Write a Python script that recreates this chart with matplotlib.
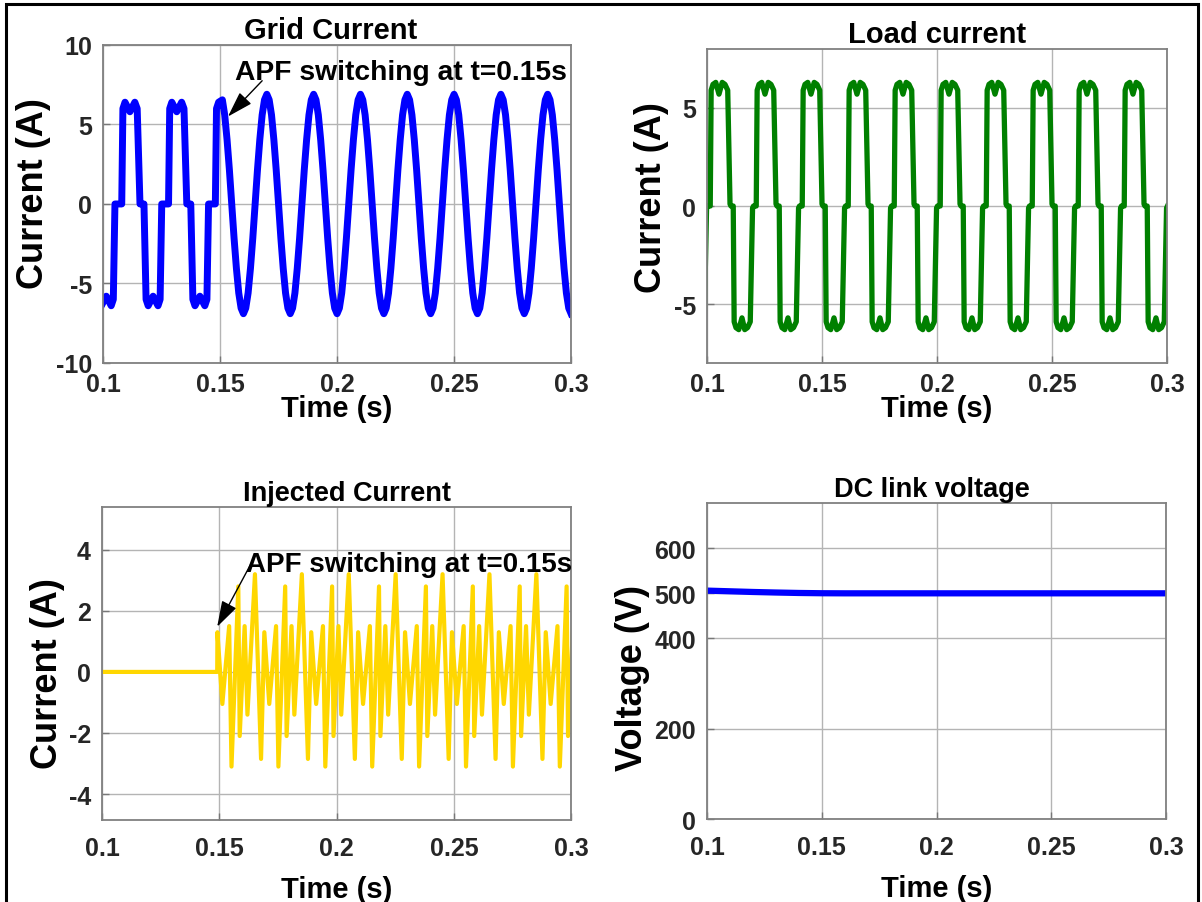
import numpy as np
import matplotlib
matplotlib.use('Agg')
import matplotlib.pyplot as plt
from matplotlib.patches import Rectangle

plt.rcParams['font.family'] = ['Liberation Sans', 'DejaVu Sans']
plt.rcParams['font.weight'] = 'bold'
plt.rcParams['axes.unicode_minus'] = False

# time axis ticks shared by all panels
x_ticks = [0.1, 0.15, 0.2, 0.25, 0.3]
x_tick_labels = ['0.1', '0.15', '0.2', '0.25', '0.3']

# grid current before APF switching: one period (time from rising edge)
grid_cycle_t = [0.0000, 0.0005, 0.0014, 0.0035, 0.0056, 0.0066, 0.0078, 0.0095,
                0.0104, 0.0113, 0.0134, 0.0155, 0.0164, 0.0171]
grid_cycle_i = [0.0, 6.0, 6.4, 5.8, 6.4, 6.0, 0.0, 0.0,
                -6.0, -6.4, -5.8, -6.4, -6.0, 0.0]
grid_cycle_starts = [0.088, 0.108, 0.128, 0.148]
# grid current after switching: one sinusoid period at 1 ms steps, starting at a peak
grid_sine_cycle = [6.9, 6.55, 5.6, 4.05, 2.15, 0.0, -2.15, -4.05, -5.6, -6.55,
                   -6.9, -6.55, -5.6, -4.05, -2.15, 0.0, 2.15, 4.05, 5.6, 6.55]

# load current: one period (time from rising edge)
load_cycle_t = [0.0000, 0.0004, 0.0012, 0.0024, 0.0038, 0.0052, 0.0064, 0.0076,
                0.0086, 0.0090, 0.0100, 0.0104, 0.0112, 0.0124, 0.0138, 0.0150,
                0.0162, 0.0174, 0.0184, 0.0188]
load_cycle_i = [0.0, 5.9, 6.2, 6.3, 5.7, 6.3, 6.2, 5.9,
                0.1, 0.0, 0.0, -5.9, -6.2, -6.3, -5.7, -6.3,
                -6.2, -5.9, -0.1, 0.0]
load_cycle_starts = [0.0814 + 0.02 * k for k in range(11)]

# injected current: one period of the spiky waveform after switching
inj_start = 0.1492
inj_cycle_t = [0.0, 0.0021, 0.0050, 0.0060, 0.0089, 0.0095, 0.0116, 0.0128, 0.0160, 0.0186]
inj_cycle_i = [1.3, -1.05, 1.5, -3.1, 2.8, -2.1, 1.5, -1.4, 3.2, -2.85]

# DC link voltage
dc_t = [0.10, 0.11, 0.12, 0.13, 0.14, 0.15, 0.16, 0.20, 0.25, 0.30]
dc_v = [506, 504.5, 503, 501.8, 500.8, 500.2, 500, 500, 500, 500]

# build series
gt, gi = [], []
for s in grid_cycle_starts:
    for tt, ii in zip(grid_cycle_t, grid_cycle_i):
        if s + tt <= 0.1505:
            gt.append(s + tt)
            gi.append(ii)
for k in range(1, 151):
    gt.append(0.15 + k * 0.001)
    gi.append(grid_sine_cycle[k % 20])

lt, li = [], []
for s in load_cycle_starts:
    for tt, ii in zip(load_cycle_t, load_cycle_i):
        lt.append(s + tt)
        li.append(ii)

it, ii_ = [0.1, inj_start - 0.0001], [0.0, 0.0]
for k in range(8):
    for tt, vv in zip(inj_cycle_t, inj_cycle_i):
        it.append(inj_start + 0.02 * k + tt)
        ii_.append(vv)

fig = plt.figure(figsize=(12.02, 9.03), dpi=100)

ax1 = fig.add_axes([0.0857, 0.5969, 0.3894, 0.3522])
ax2 = fig.add_axes([0.5882, 0.5969, 0.3827, 0.3477])
ax3 = fig.add_axes([0.0849, 0.0908, 0.3902, 0.3466])
ax4 = fig.add_axes([0.5882, 0.0919, 0.3819, 0.3499])


def style(ax, ylim, yticks, ylabel, label_y, top_row):
    ax.set_xlim(0.1, 0.3)
    ax.set_xticks(x_ticks)
    ax.set_xticklabels(x_tick_labels)
    ax.set_ylim(ylim)
    ax.set_yticks(yticks)
    ax.set_yticklabels([str(v) for v in yticks])
    ax.grid(True, color='#b4b4b4', lw=1)
    ax.set_axisbelow(True)
    ax.tick_params(direction='in', length=5, width=1, color='#777777',
                   labelsize=18, pad=8, labelcolor='#262626')
    ax.tick_params(axis='x', pad=6.6 if top_row else 11.6)
    for sp in ax.spines.values():
        sp.set_color('#808080')
        sp.set_linewidth(1.3)
    ax.set_xlabel('Time (s)', fontsize=21, fontweight='bold',
                  labelpad=-1.3 if top_row else 11)
    ax.set_ylabel(ylabel, fontsize=26, fontweight='bold', labelpad=3)
    ax.yaxis.label.set_y(label_y)


ax1.plot(gt, gi, color='#0000ff', lw=5)
style(ax1, (-10, 10), [-10, -5, 0, 5, 10], 'Current (A)', 0.535, True)
ax1.set_title('Grid Current', fontsize=21, fontweight='bold', pad=5, x=0.487)
ax1.text(0.1564, 8.3, 'APF switching at t=0.15s', fontsize=20.3, fontweight='bold',
         va='center', ha='left')
ax1.annotate('', xy=(0.1534, 5.5), xytext=(0.168, 7.75),
             arrowprops=dict(arrowstyle='-|>,head_length=0.8,head_width=0.25',
                             color='k', lw=1, mutation_scale=20, shrinkA=0, shrinkB=0))

ax2.plot(lt, li, color='#008000', lw=3.8)
style(ax2, (-8, 8), [-5, 0, 5], 'Current (A)', 0.53, True)
ax2.set_title('Load current', fontsize=21, fontweight='bold', pad=5)

ax3.plot(it, ii_, color='#ffd700', lw=3)
style(ax3, (-4.85, 5.4), [-4, -2, 0, 2, 4], 'Current (A)', 0.47, False)
ax3.set_title('Injected Current', fontsize=19.5, fontweight='bold', pad=5, x=0.523)
ax3.text(0.1615, 3.54, 'APF switching at t=0.15s', fontsize=20, fontweight='bold',
         va='center', ha='left')
ax3.annotate('', xy=(0.1491, 1.48), xytext=(0.1658, 3.87),
             arrowprops=dict(arrowstyle='-|>,head_length=0.8,head_width=0.25',
                             color='k', lw=1, mutation_scale=20, shrinkA=0, shrinkB=0))

ax4.plot(dc_t, dc_v, color='#0000ff', lw=4.5)
style(ax4, (0, 700), [0, 200, 400, 500, 600], 'Voltage (V)', 0.45, False)
ax4.set_title('DC link voltage', fontsize=19.5, fontweight='bold', pad=5, x=0.49)

fig.patches.append(Rectangle((0.005, -0.02), 0.9917, 1.0145, transform=fig.transFigure,
                             fill=False, edgecolor='k', lw=2.2, zorder=10))

fig.savefig('out.png', dpi=100)
